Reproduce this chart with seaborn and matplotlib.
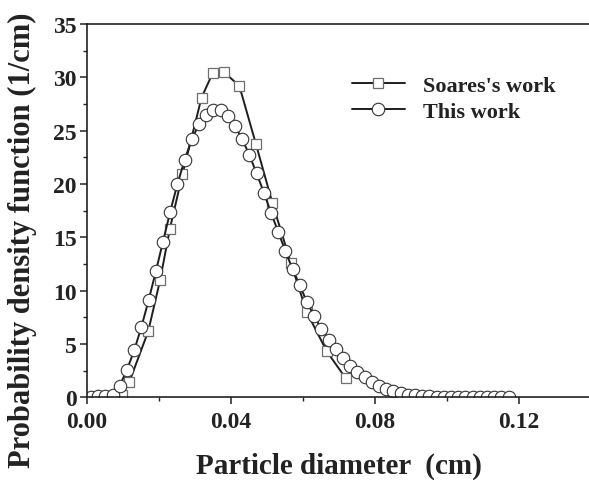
import matplotlib
matplotlib.use("Agg")
import matplotlib.pyplot as plt
import seaborn as sns
import pandas as pd
from matplotlib.ticker import MultipleLocator

# Soares's work (squares)
soares_x = [0.0005, 0.0097, 0.0118, 0.0171, 0.0204, 0.0231, 0.0266, 0.0319, 0.0350,
            0.0381, 0.0424, 0.0470, 0.0516, 0.0567, 0.0611, 0.0667, 0.0719]
soares_y = [0.0, 0.2, 1.4, 6.2, 11.0, 15.8, 20.9, 28.1, 30.4,
            30.5, 29.2, 23.75, 18.2, 12.6, 8.0, 4.3, 1.8]

# This work (circles)
this_x = [0.0012, 0.0032, 0.0052, 0.0072, 0.0092, 0.0112, 0.0132, 0.0152, 0.0172, 0.0192,
          0.0212, 0.0232, 0.0252, 0.0272, 0.0292, 0.0312, 0.0332, 0.0352, 0.0372, 0.0392,
          0.0412, 0.0432, 0.0452, 0.0472, 0.0492, 0.0512, 0.0532, 0.0552, 0.0572, 0.0592,
          0.0612, 0.0632, 0.0652, 0.0672, 0.0692, 0.0712, 0.0732, 0.0752, 0.0772, 0.0792,
          0.0812, 0.0832, 0.0852, 0.0872, 0.0892, 0.0912, 0.0932, 0.0952, 0.0972, 0.0992,
          0.1012, 0.1032, 0.1052, 0.1072, 0.1092, 0.1112, 0.1132, 0.1152, 0.1172]
this_y = [0.0, 0.1, 0.15, 0.25, 1.1, 2.6, 4.4, 6.6, 9.1, 11.8,
          14.6, 17.4, 20.0, 22.25, 24.2, 25.6, 26.5, 26.9, 26.9, 26.4,
          25.4, 24.2, 22.7, 21.0, 19.2, 17.3, 15.5, 13.7, 12.0, 10.5,
          8.9, 7.6, 6.4, 5.4, 4.5, 3.7, 2.96, 2.34, 1.87, 1.4,
          1.09, 0.78, 0.56, 0.37, 0.25, 0.18, 0.12, 0.08, 0.05, 0.04,
          0.03, 0.02, 0.02, 0.01, 0.01, 0.01, 0.0, 0.0, 0.0]

x_ticks = [0.00, 0.04, 0.08, 0.12]
x_tick_labels = ["0.00", "0.04", "0.08", "0.12"]
y_ticks = [0, 5, 10, 15, 20, 25, 30, 35]

sns.set_style("ticks")
plt.rcParams['font.family'] = ['Liberation Serif', 'DejaVu Serif']
plt.rcParams['font.weight'] = 'bold'

fig = plt.figure(figsize=(5.89, 4.81), dpi=100)
ax = fig.add_axes([0.1472, 0.172, 0.8557, 0.776])

df_s = pd.DataFrame({"x": soares_x, "y": soares_y})
df_t = pd.DataFrame({"x": this_x, "y": this_y})

line_col = "#1e1e1e"
sns.lineplot(data=df_s, x="x", y="y", ax=ax, color=line_col, lw=1.4,
             marker="s", markersize=7.5, markerfacecolor="white",
             markeredgecolor="#6e6e6e", markeredgewidth=0.9,
             estimator=None, label="Soares's work")
sns.lineplot(data=df_t, x="x", y="y", ax=ax, color=line_col, lw=1.4,
             marker="o", markersize=9, markerfacecolor="white",
             markeredgecolor="#333333", markeredgewidth=0.8,
             estimator=None, label="This work")

ax.set_xlim(0, 0.14)
ax.set_ylim(0, 35)
ax.set_xticks(x_ticks)
ax.set_xticklabels(x_tick_labels)
ax.set_yticks(y_ticks)
ax.xaxis.set_minor_locator(MultipleLocator(0.02))
ax.yaxis.set_minor_locator(MultipleLocator(2.5))

for s in ax.spines.values():
    s.set_linewidth(1.2)
    s.set_color("#222222")

ax.tick_params(axis='both', which='major', direction='out', length=5, width=1.1,
               labelsize=17, colors="#222222")
ax.tick_params(axis='x', which='major', pad=5)
ax.tick_params(axis='y', which='major', pad=2)
ax.tick_params(axis='both', which='minor', direction='out', length=3, width=1.0,
               colors="#222222")
for lab in ax.get_xticklabels() + ax.get_yticklabels():
    lab.set_fontweight('bold')

ax.set_xlabel("Particle diameter  (cm)", fontsize=21, fontweight='bold',
              color="#222222", va='center', ha='center')
ax.xaxis.set_label_coords(0.5, -0.182)
ax.set_ylabel("Probability density function (1/cm)", fontsize=22, fontweight='bold',
              color="#222222", va='center', ha='center')
ax.yaxis.set_label_coords(-0.128, 0.424)

leg = ax.legend(loc="upper left", bbox_to_anchor=(0.578, 0.864), bbox_transform=fig.transFigure,
                frameon=False, handlelength=2.4, handletextpad=0.8,
                labelspacing=0.25, borderpad=0, prop={'weight': 'bold', 'size': 16})
for t in leg.get_texts():
    t.set_color("#222222")

fig.savefig("out.png", dpi=100)
